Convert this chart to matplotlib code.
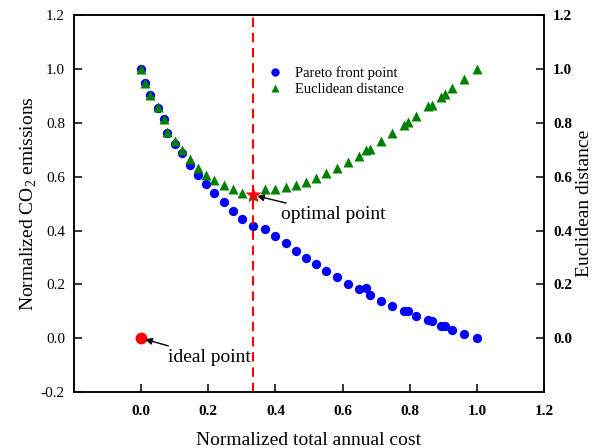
import matplotlib.pyplot as plt
import numpy as np

plt.rcParams['font.family'] = ['Liberation Serif', 'DejaVu Serif']
plt.rcParams['mathtext.fontset'] = 'custom'
plt.rcParams['mathtext.rm'] = 'Liberation Serif'

# Pareto front (normalized objectives) and distance of each point to the ideal point
cost = [0.0, 0.012, 0.027, 0.051, 0.067, 0.076, 0.100, 0.123, 0.145, 0.168,
        0.193, 0.218, 0.246, 0.273, 0.300, 0.333, 0.370, 0.400, 0.430, 0.460,
        0.492, 0.521, 0.551, 0.583, 0.616, 0.649, 0.669, 0.683, 0.715, 0.748,
        0.782, 0.795, 0.818, 0.855, 0.865, 0.892, 0.904, 0.926, 0.962, 1.0]
co2 = [1.0, 0.95, 0.903, 0.857, 0.813, 0.761, 0.72, 0.689, 0.643, 0.606,
       0.572, 0.538, 0.506, 0.473, 0.443, 0.416, 0.405, 0.379, 0.352, 0.323,
       0.299, 0.274, 0.25, 0.226, 0.203, 0.182, 0.185, 0.16, 0.138, 0.119,
       0.102, 0.102, 0.083, 0.067, 0.065, 0.047, 0.047, 0.03, 0.014, 0.0]
dist = [1.0, 0.95, 0.903, 0.859, 0.816, 0.765, 0.733, 0.699, 0.664, 0.634,
        0.608, 0.587, 0.569, 0.553, 0.54, 0.532, 0.553, 0.556, 0.562, 0.569,
        0.581, 0.594, 0.612, 0.631, 0.653, 0.678, 0.699, 0.703, 0.733, 0.761,
        0.792, 0.804, 0.825, 0.862, 0.866, 0.895, 0.906, 0.93, 0.962, 1.0]

ideal_cost, ideal_co2 = 0.0, 0.0
optimal_cost, optimal_dist = 0.333, 0.532

ticks = [0.0, 0.2, 0.4, 0.6, 0.8, 1.0, 1.2]

fig, ax1 = plt.subplots(figsize=(5.92, 4.48), dpi=100)
fig.subplots_adjust(left=0.125, right=0.919, top=0.966, bottom=0.125)

ax1.plot(cost, co2, 'o', color='#0000ff', ms=6.7, mec='none', label='Pareto front point')
ax1.plot(cost, dist, '^', color='#008000', ms=7, mec='none', label='Euclidean distance')
ax1.axvline(optimal_cost, color='#ff0000', lw=1.5, dashes=(4.5, 2.8))
ax1.plot(optimal_cost, optimal_dist, '*', color='#ff0000', ms=12, mec='none')
ax1.plot(ideal_cost, ideal_co2, 'o', color='#ff0000', ms=8.5, mec='none')

arrow = dict(arrowstyle='-|>', color='k', lw=1, mutation_scale=10, shrinkA=1, shrinkB=3)
ax1.annotate('optimal point', xy=(optimal_cost, optimal_dist), xytext=(0.418, 0.459),
             fontsize=14, va='center', ha='left', arrowprops=arrow)
ax1.annotate('ideal point', xy=(ideal_cost, ideal_co2), xytext=(0.08, -0.072),
             fontsize=14, va='center', ha='left', arrowprops=arrow)

ax1.set_xlim(-0.2, 1.2)
ax1.set_ylim(-0.2, 1.2)
ax1.set_xticks(ticks)
ax1.set_yticks([-0.2] + ticks)
ax1.set_xticklabels([f'{t:.1f}' for t in ticks], fontweight='bold')
ax1.set_yticklabels([f'{t:.1f}' for t in [-0.2] + ticks])
ax1.tick_params(axis='both', direction='in', length=5.5, width=1.1, labelsize=11, pad=6.5)
ax1.tick_params(axis='x', pad=9.5)
ax1.set_xlabel('Normalized total annual cost', fontsize=14, labelpad=10)
ax1.set_ylabel('Normalized CO$_2$ emissions', fontsize=14, labelpad=1)

# right axis only carries the distance scale
ax2 = ax1.twinx()
ax2.set_ylim(-0.2, 1.2)
ax2.set_yticks(ticks)
ax2.set_yticklabels([f'{t:.1f}' for t in ticks], fontweight='bold')
ax2.tick_params(axis='y', direction='in', length=5.5, width=1.1, labelsize=11, pad=6.5)
ax2.set_ylabel('Euclidean distance', fontsize=14, labelpad=3)

for ax in (ax1, ax2):
    for sp in ax.spines.values():
        sp.set_linewidth(1.1)

ax1.legend(loc='upper left', bbox_to_anchor=(0.412, 0.865), frameon=False, fontsize=10.5,
           borderpad=0, borderaxespad=0, handlelength=1.0, handletextpad=0.85,
           labelspacing=0.2, markerscale=0.9)

fig.savefig('out.png', dpi=100)
